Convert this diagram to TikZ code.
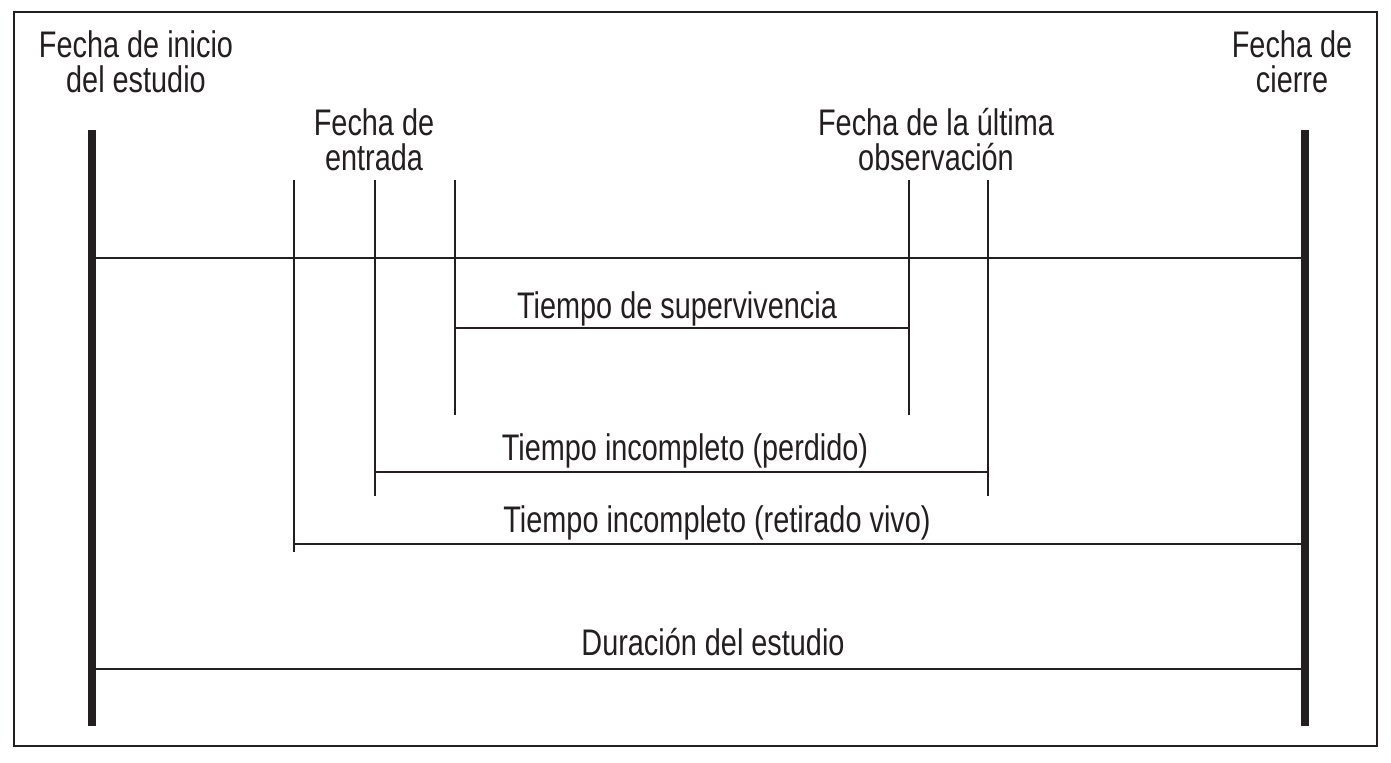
\documentclass[tikz,border=0pt]{standalone}
\usepackage{fontspec}
\setmainfont{Liberation Sans}[FakeStretch=0.78]
\definecolor{ink}{HTML}{231F20}
\begin{document}
\begin{tikzpicture}[x=0.5pt,y=-0.5pt,
  thin line/.style={draw=ink,line width=0.8pt},
  thick bar/.style={draw=ink,line width=4pt},
  lbl/.style={text=ink,font=\fontsize{18.5}{17.5}\selectfont,align=center,inner sep=0pt,anchor=base},
]
\useasboundingbox (0,0) rectangle (1391,762);
\fill[white] (0,0) rectangle (1391,762);
\draw[ink,line width=0.8pt] (14,12) rectangle (1377,746);
% coordinates
\coordinate (Ltop) at (92,130);
\coordinate (Lbot) at (92,726);
\coordinate (Rtop) at (1305,130);
\coordinate (Rbot) at (1305,726);
\coordinate (A) at (294,180); \coordinate (Ab) at (294,552);
\coordinate (B) at (375,180); \coordinate (Bb) at (375,496);
\coordinate (C) at (455,180); \coordinate (Cb) at (455,415);
\coordinate (D) at (909,180); \coordinate (Db) at (909,415);
\coordinate (E) at (988,180); \coordinate (Eb) at (988,496);
% thick bars
\draw[thick bar] (Ltop) -- (Lbot);
\draw[thick bar] (Rtop) -- (Rbot);
% thin verticals
\draw[thin line] (A) -- (Ab);
\draw[thin line] (B) -- (Bb);
\draw[thin line] (C) -- (Cb);
\draw[thin line] (D) -- (Db);
\draw[thin line] (E) -- (Eb);
% horizontals
\draw[thin line] (Ltop |- 0,258) -- (Rtop |- 0,258);
\draw[thin line] (C |- 0,328) -- (D |- 0,328);
\draw[thin line] (B |- 0,472) -- (E |- 0,472);
\draw[thin line] (A |- 0,544) -- (Rtop |- 0,544);
\draw[thin line] (Ltop |- 0,669) -- (Rtop |- 0,669);
% labels
\node[lbl] (inicio) at (136,92) {Fecha de inicio\\del estudio};
\node[lbl] (cierre) at (1292,92) {Fecha de\\cierre};
\node[lbl] (entrada) at (374,170) {Fecha de\\entrada};
\node[lbl] (ultima) at (936,170) {Fecha de la última\\observación};
\node[lbl] (superv) at (677,318) {Tiempo de supervivencia};
\node[lbl] (perdido) at (685,460) {Tiempo incompleto (perdido)};
\node[lbl] (retirado) at (717,532) {Tiempo incompleto (retirado vivo)};
\node[lbl] (duracion) at (713,655) {Duración del estudio};
\end{tikzpicture}
\end{document}
